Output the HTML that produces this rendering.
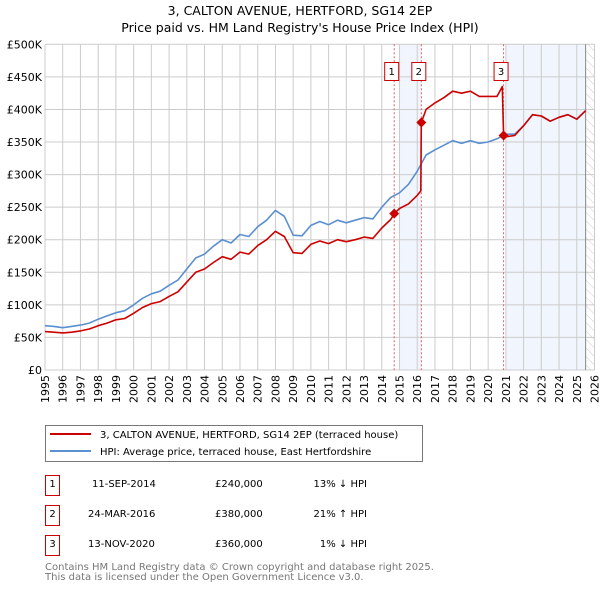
<!DOCTYPE html>
<html><head><meta charset="utf-8"><style>
body{margin:0;background:#fff;font-family:"Liberation Sans","DejaVu Sans",sans-serif}
svg text{font-family:"DejaVu Sans","Liberation Sans",sans-serif}
</style></head><body>
<svg id="chart" width="600" height="590" viewBox="0 0 600 590" xmlns="http://www.w3.org/2000/svg">
<defs><pattern id="hatch" width="6" height="6" patternUnits="userSpaceOnUse" patternTransform="rotate(-45)"><line x1="0" y1="0" x2="0" y2="6" stroke="#ccc" stroke-width="1"/></pattern></defs>
<text x="300" y="15" text-anchor="middle" font-size="12.5">3, CALTON AVENUE, HERTFORD, SG14 2EP</text>
<text x="300" y="32" text-anchor="middle" font-size="12.5">Price paid vs. HM Land Registry's House Price Index (HPI)</text>
<g id="plot"></g>
<g>
<rect x="45.5" y="425.5" width="377" height="36" fill="#fff" stroke="#777"/>
<line x1="50" y1="434" x2="91" y2="434" stroke="#cc0000" stroke-width="2"/>
<text x="100" y="438" font-size="10">3, CALTON AVENUE, HERTFORD, SG14 2EP (terraced house)</text>
<line x1="50" y1="451" x2="91" y2="451" stroke="#5b8fd0" stroke-width="2"/>
<text x="100" y="455" font-size="10">HPI: Average price, terraced house, East Hertfordshire</text>
</g>
<g font-size="10">
<rect x="45.5" y="475.5" width="14" height="20" fill="none" stroke="#cc0000"/><text x="52.5" y="487" text-anchor="middle">1</text>
<text x="92" y="487">11-SEP-2014</text><text x="215" y="487">£240,000</text><text x="367" y="487" text-anchor="end">13% ↓ HPI</text>
<rect x="45.5" y="505.5" width="14" height="20" fill="none" stroke="#cc0000"/><text x="52.5" y="517" text-anchor="middle">2</text>
<text x="88" y="517">24-MAR-2016</text><text x="215" y="517">£380,000</text><text x="367" y="517" text-anchor="end">21% ↑ HPI</text>
<rect x="45.5" y="535.5" width="14" height="20" fill="none" stroke="#cc0000"/><text x="52.5" y="547" text-anchor="middle">3</text>
<text x="88" y="547">13-NOV-2020</text><text x="215" y="547">£360,000</text><text x="367" y="547" text-anchor="end">1% ↓ HPI</text>
</g>
<text x="45" y="570" font-size="10" fill="#777">Contains HM Land Registry data © Crown copyright and database right 2025.</text>
<text x="45" y="580" font-size="10" fill="#777">This data is licensed under the Open Government Licence v3.0.</text>
</svg>
<script>
const hpiYears=[1995,1995.5,1996,1996.5,1997,1997.5,1998,1998.5,1999,1999.5,2000,2000.5,2001,2001.5,2002,2002.5,2003,2003.5,2004,2004.5,2005,2005.5,2006,2006.5,2007,2007.5,2008,2008.5,2009,2009.5,2010,2010.5,2011,2011.5,2012,2012.5,2013,2013.5,2014,2014.5,2015,2015.5,2016,2016.5,2017,2017.5,2018,2018.5,2019,2019.5,2020,2020.5,2021,2021.5,2022,2022.5,2023,2023.5,2024,2024.5,2025,2025.5];
const hpiValues=[68,67,65,67,69,72,78,83,88,91,100,110,117,121,130,138,155,172,178,190,200,195,208,205,220,230,245,236,207,206,222,228,223,230,226,230,234,232,250,265,272,285,305,330,338,345,352,348,352,348,350,355,362,362,375,392,390,382,388,392,385,398];
const priceYears=[1995,1995.5,1996,1996.5,1997,1997.5,1998,1998.5,1999,1999.5,2000,2000.5,2001,2001.5,2002,2002.5,2003,2003.5,2004,2004.5,2005,2005.5,2006,2006.5,2007,2007.5,2008,2008.5,2009,2009.5,2010,2010.5,2011,2011.5,2012,2012.5,2013,2013.5,2014,2014.5,2014.7,2015,2015.5,2016,2016.2,2016.23,2016.5,2017,2017.5,2018,2018.5,2019,2019.5,2020,2020.5,2020.8,2020.87,2021,2021.5,2022,2022.5,2023,2023.5,2024,2024.5,2025,2025.5];
const priceValues=[59,58,57,58,60,63,68,72,77,79,87,96,102,105,113,120,135,150,155,165,174,170,181,178,191,200,213,205,180,179,193,198,194,200,197,200,204,202,218,231,240,248,255,268,275,380,400,410,418,428,425,428,420,420,420,435,360,358,360,375,392,390,382,388,392,385,398];
const saleYears=[2014.7,2016.23,2020.87];
const saleValues=[240,380,360];
const saleLabels=["1","2","3"];
const yTicks=[0,50,100,150,200,250,300,350,400,450,500];
const yTickLabels=["£0","£50K","£100K","£150K","£200K","£250K","£300K","£350K","£400K","£450K","£500K"];
const xTicks=[1995,1996,1997,1998,1999,2000,2001,2002,2003,2004,2005,2006,2007,2008,2009,2010,2011,2012,2013,2014,2015,2016,2017,2018,2019,2020,2021,2022,2023,2024,2025,2026];

const NS="http://www.w3.org/2000/svg";
const X0=45,X1=594.5,Y0=370,Y1=44.3;
const xs=y=>X0+(y-1995)/(2026-1995)*(X1-X0);
const ys=v=>Y0-v/500*(Y0-Y1);
const plot=document.getElementById('plot');
function mk(tag,attrs,parent){const e=document.createElementNS(NS,tag);for(const k in attrs)e.setAttribute(k,attrs[k]);(parent||plot).appendChild(e);return e;}
let s1=mk('rect',{x:xs(2015.0),y:Y1,width:xs(2016.23)-xs(2015.0),height:Y0-Y1,fill:'#eef3fc',opacity:0.8});


let s2=mk('rect',{x:xs(2021.0),y:Y1,width:xs(2025.5)-xs(2021.0),height:Y0-Y1,fill:'#eef3fc',opacity:0.8});


let hz=mk('rect',{x:xs(2025.5),y:Y1,width:X1-xs(2025.5),height:Y0-Y1,fill:'url(#hatch)'});


xTicks.forEach(t=>{const x=xs(t);
 const g=mk('line',{x1:x,x2:x,y1:Y1,y2:Y0,stroke:'#ccc','stroke-width':1});
 
 
 const l=mk('text',{x:0,y:0,'font-size':11,'text-anchor':'end',transform:`translate(${x+4},${Y0+5}) rotate(-90)`});
 l.textContent=t;
 
 
});
yTicks.forEach((t,i)=>{const y=ys(t);
 const g=mk('line',{x1:X0,x2:X1,y1:y,y2:y,stroke:'#ccc','stroke-width':1});
 
 
 const l=mk('text',{x:X0-3,y:y+4,'font-size':11,'text-anchor':'end'});
 l.textContent=yTickLabels[i];
 
 
});
mk('line',{x1:xs(2025.5),x2:xs(2025.5),y1:Y1,y2:Y0,stroke:'#888'});
saleYears.forEach((y,i)=>{const x=xs(y);
 const l=mk('line',{x1:x,x2:x,y1:Y1,y2:Y0,stroke:'#e06060','stroke-width':1,'stroke-dasharray':'2,2'});
 
 
});
function path(xa,va,color,name){
 const d=xa.map((y,i)=>(i?'L':'M')+xs(y).toFixed(1)+','+ys(va[i]).toFixed(1)).join(' ');
 const p=mk('path',{d:d,fill:'none',stroke:color,'stroke-width':1.6,'stroke-linejoin':'round'});
 
 
}
path(hpiYears,hpiValues,'#5b8fd0','hpi-line');
path(priceYears,priceValues,'#cc0000','price-paid-line');
saleYears.forEach((y,i)=>{
 const x=xs(y),v=ys(saleValues[i]);
 const d=mk('path',{d:`M${x},${v-5} L${x+5},${v} L${x},${v+5} L${x-5},${v} Z`,fill:'#cc0000'});
 
 
 const bx=x-3-7;
 const r=mk('rect',{x:bx+0.5,y:62.5,width:14,height:18,fill:'#fff',stroke:'#cc0000'});
 
 
 const t=mk('text',{x:bx+7.5,y:75,'font-size':10,'text-anchor':'middle'});
 t.textContent=saleLabels[i];
 
 
});
</script>
</body></html>
